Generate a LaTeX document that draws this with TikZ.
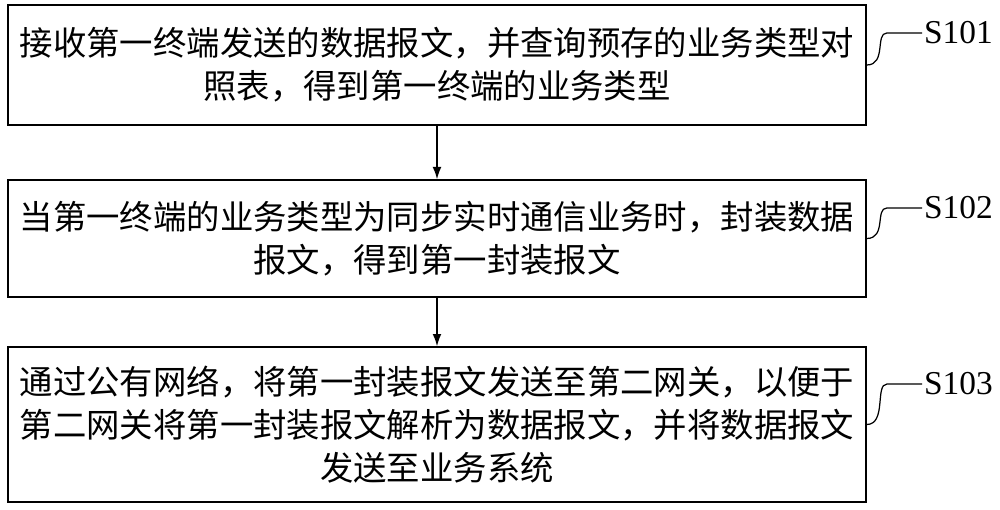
\documentclass[tikz,border=0pt]{standalone}
\usepackage{fontspec}
\setmainfont{Liberation Serif}
\newfontfamily\cjk{Noto Sans CJK SC}
\usetikzlibrary{arrows.meta}
\begin{document}
\begin{tikzpicture}[x=0.02cm,y=-0.02cm,
  stepbox/.style={draw,line width=0.8pt,minimum width=858*0.02cm,align=center,font=\cjk\fontsize{19}{24.5}\selectfont,inner sep=0pt},
  lbl/.style={font=\fontsize{19}{22}\selectfont,inner sep=1pt},
  arr/.style={-{Latex[length=7pt,width=5pt]},line width=0.8pt}]
\useasboundingbox (0,0) rectangle (1000,510);
\node[stepbox,minimum height=120*0.02cm] (b1) at (437,65) {接收第一终端发送的数据报文，并查询预存的业务类型对\\照表，得到第一终端的业务类型};
\node[stepbox,minimum height=117*0.02cm] (b2) at (437,238.5) {当第一终端的业务类型为同步实时通信业务时，封装数据\\报文，得到第一封装报文};
\node[stepbox,minimum height=155*0.02cm] (b3) at (437,424.5) {通过公有网络，将第一封装报文发送至第二网关，以便于\\第二网关将第一封装报文解析为数据报文，并将数据报文\\发送至业务系统};
\draw[arr] (b1.south) -- (b2.north);
\draw[arr] (b2.south) -- (b3.north);
\node[lbl,anchor=west] (s1) at (922,33) {S101};
\node[lbl,anchor=west] (s2) at (922,208) {S102};
\node[lbl,anchor=west] (s3) at (922,384) {S103};
\foreach \b/\s in {b1/s1,b2/s2,b3/s3}{
  \draw[line width=0.7pt] (\b.east) .. controls +(20,0) and +(-12,0) .. ([xshift=-20]\s.west |- \s.west) .. controls +(8,0) and +(-6,0) .. (\s.west);
}
\end{tikzpicture}
\end{document}
